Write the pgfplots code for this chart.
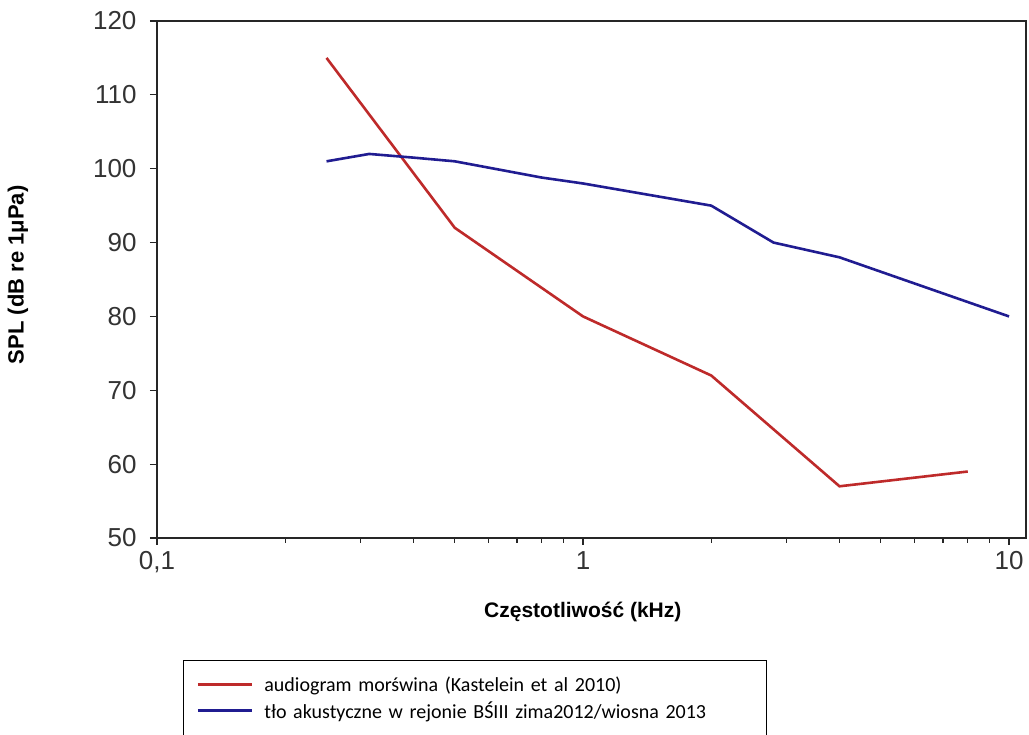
\documentclass[border=0pt]{standalone}
\usepackage{pgfplots}
\pgfplotsset{compat=1.18}
\usepackage{fontspec}
\setmainfont{Liberation Sans}
\newfontfamily\legfont{Carlito}
\definecolor{cred}{RGB}{190,42,42}
\definecolor{cblue}{RGB}{32,28,145}
\begin{document}
\begin{tikzpicture}[x=1pt,y=1pt]
\useasboundingbox (0,0) rectangle (1029,735);
\begin{axis}[
  at={(157pt,197pt)}, anchor=south west,
  width=869pt, height=517pt, scale only axis,
  xmode=log, xmin=0.1, xmax=10.96,
  ymin=50, ymax=120,
  xtick={0.1,1,10}, xticklabels={{0,1},1,10},
  ytick={50,60,...,120},
  tick pos=left,
  tick align=outside,
  major tick length=7pt, minor tick length=5pt,
  axis line style={line width=1.6pt, black!85},
  every tick/.style={line width=1.2pt, black!85},
  /pgf/number format/assume math mode=true,
  tick label style={font=\fontsize{26}{30}\selectfont, text=black!80},
  xticklabel style={yshift=-3pt},
  yticklabel style={xshift=-10pt},
  xlabel={\textbf{Częstotliwość (kHz)}},
  ylabel={\textbf{SPL (dB re 1μPa)}},
  xlabel style={at={(axis description cs:0.49,-0.143)}, anchor=center, font=\fontsize{21}{24}\selectfont},
  ylabel style={at={(axis description cs:-0.16,0.509)}, anchor=center, rotate=0, font=\fontsize{22}{25}\selectfont},
  legend style={at={(axis description cs:0.0299,-0.236)}, anchor=north west,
    draw=black, very thick, fill=white, font=\legfont\fontsize{20}{23}\selectfont,
    inner xsep=13pt, inner ysep=14pt, row sep=5pt,
    /tikz/every odd column/.append style={column sep=9pt}},
  legend cell align=left,
  legend image code/.code={\draw[#1, line width=2.8pt] (0pt,0pt) -- (54pt,0pt);},
]
\addplot[cred, line width=2.6pt] coordinates {
(0.25,115) (0.5,92) (1,80) (2,72) (4,57) (8,59)
};
\addlegendentry[text width=487pt, align=left]{audiogram morświna (Kastelein et al 2010)}
\addplot[cblue, line width=2.6pt] coordinates {
(0.25,101) (0.315,102) (0.4,101.5) (0.5,101) (0.8,98.8) (1,98) (2,95) (2.8,90) (4,88) (10,80)
};
\addlegendentry[text width=487pt, align=left]{tło akustyczne w rejonie BŚIII zima2012/wiosna 2013}
\end{axis}
\end{tikzpicture}
\end{document}
